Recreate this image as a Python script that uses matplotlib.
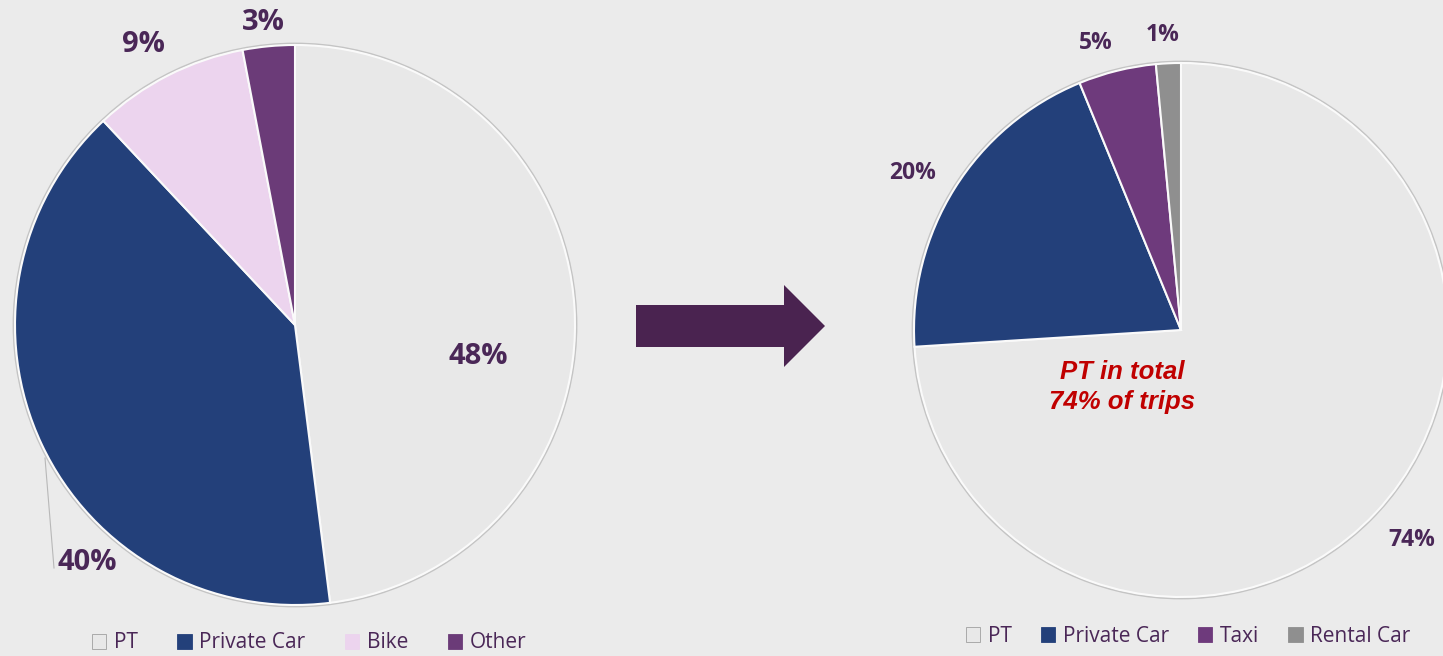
import matplotlib
matplotlib.use("Agg")
import matplotlib.pyplot as plt
from matplotlib.patches import Patch, FancyArrow, Circle

# ---- data ----
left_categories = ["PT", "Private Car", "Bike", "Other"]
left_values = [48.0, 40.0, 9.0, 3.0]
left_labels = ["48%", "40%", "9%", "3%"]

right_categories = ["PT", "Private Car", "Taxi", "Rental Car"]
right_values = [74.0, 19.8, 4.7, 1.5]
right_labels = ["74%", "20%", "5%", "1%"]

annotation_text = "PT in total\n74% of trips"

# ---- style ----
BG = "#ebebeb"
left_colors = ["#e8e8e8", "#23407a", "#ecd4ee", "#6b3b78"]
right_colors = ["#e8e8e8", "#23407a", "#6e3a7c", "#8f8f8f"]
LABEL_COLOR = "#4a2757"
W, H = 1443, 656

fig = plt.figure(figsize=(W / 100, H / 100), dpi=100, facecolor=BG)
ax = fig.add_axes([0, 0, 1, 1])
ax.set_facecolor(BG)

def Y(ypx):
    return H - ypx

font = "Open Sans"

def draw_pie(values, colors, center, radius):
    ax.add_patch(Circle(center, radius + 1.5, facecolor="none", edgecolor="#c4c4c4", lw=1.3, zorder=1))
    wedges, _ = ax.pie(values, colors=colors, startangle=90, counterclock=False,
                       center=center, radius=radius, frame=True,
                       wedgeprops=dict(edgecolor="#fafafa", linewidth=1.5))
    for w in wedges:
        w.set_zorder(2)
    return wedges

lc = (295, Y(325))
draw_pie(left_values, left_colors, lc, 280)
rc = (1181, Y(330))
draw_pie(right_values, right_colors, rc, 267)

ax.set_xlim(0, W)
ax.set_ylim(0, H)
ax.set_aspect("equal")
ax.axis("off")

# percentage labels
left_pos = [(478, 357), (87, 562), (143, 45), (263, 22)]
for lab, (x, y) in zip(left_labels, left_pos):
    ax.text(x, Y(y), lab, ha="center", va="center", fontsize=21, fontweight="bold",
            color=LABEL_COLOR, family=font, zorder=5)
ax.plot([45, 54], [Y(458), Y(568)], color="#b8b8b8", lw=0.8, zorder=3)

right_pos = [(1412, 540), (913, 173), (1096, 43), (1163, 35)]
for lab, (x, y) in zip(right_labels, right_pos):
    ax.text(x, Y(y), lab, ha="center", va="center", fontsize=16.5, fontweight="bold",
            color=LABEL_COLOR, family=font, zorder=5)

# annotation
ax.text(1122, Y(387), annotation_text, ha="center", va="center", fontsize=18.5,
        fontweight="bold", style="italic", color="#c00000", family="Liberation Sans",
        linespacing=1.3, zorder=5)

# arrow
ax.add_patch(FancyArrow(636, Y(326), 189, 0, width=42, head_width=82, head_length=41,
                        length_includes_head=True, facecolor="#4a2350", edgecolor="none", zorder=4))

# legends
def make_legend(cats, colors, anchor, spacing):
    handles = [Patch(facecolor=c, edgecolor="#a0a0a0" if i == 0 else c, linewidth=0.6)
               for i, c in enumerate(colors)]
    leg = fig.legend(handles, cats, loc="center", bbox_to_anchor=anchor, ncol=len(cats),
                     frameon=False, handlelength=0.7, handleheight=0.7, handletextpad=0.35,
                     columnspacing=spacing, prop=dict(family=font, size=15),
                     labelcolor=LABEL_COLOR)
    return leg

make_legend(left_categories, left_colors, (309 / W, 1 - 643 / H), 1.9)
make_legend(right_categories, right_colors, (1188 / W, 1 - 636 / H), 1.4)

fig.savefig("out.png", dpi=100, facecolor=BG)
